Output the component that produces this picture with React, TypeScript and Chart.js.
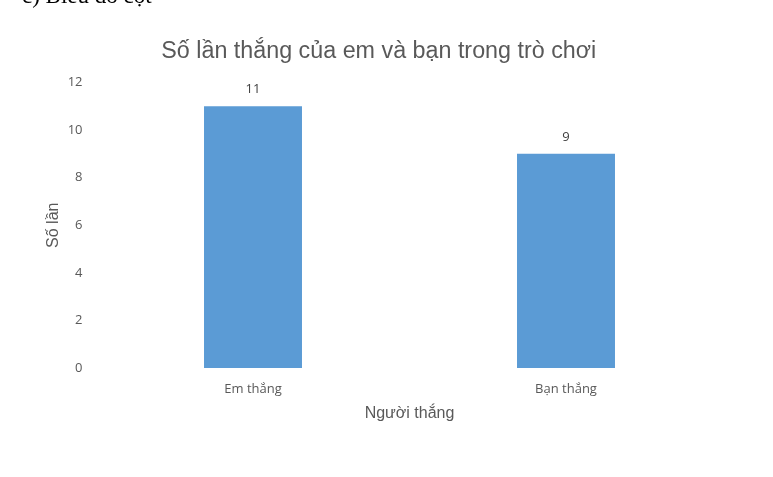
import React, { useEffect, useRef } from 'react';
import { Chart, registerables } from 'chart.js';

Chart.register(...registerables);

const categories = ['Em thắng', 'Bạn thắng'];
const wins = [11, 9];
const yTicks = [0, 2, 4, 6, 8, 10, 12];

const TEXT = '#595959';

// writes the value above each bar
const valueLabels = {
  id: 'valueLabels',
  afterDatasetsDraw(chart: any) {
    const ctx = chart.ctx;
    const meta = chart.getDatasetMeta(0);
    ctx.save();
    ctx.font = '13px "Open Sans"';
    ctx.fillStyle = '#404040';
    ctx.textAlign = 'center';
    ctx.textBaseline = 'middle';
    meta.data.forEach((bar: any, i: number) => {
      ctx.fillText(String(wins[i]), bar.x, bar.y - 17);
    });
    ctx.restore();
  },
};

function WinsChart() {
  const chartRef = useRef<HTMLCanvasElement>(null);

  useEffect(() => {
    if (!chartRef.current) return;
    const myChart = new Chart(chartRef.current, {
      type: 'bar',
      data: {
        labels: categories,
        datasets: [{
          label: 'Số lần',
          data: wins,
          backgroundColor: '#5B9BD5',
          borderWidth: 0,
          barPercentage: 0.313,
          categoryPercentage: 1,
        }],
      },
      options: {
        animation: false,
        responsive: false,
        layout: { padding: { left: 35, right: 50.5, top: 0, bottom: 54 } },
        plugins: {
          legend: { display: false },
          tooltip: { enabled: false },
          title: {
            display: true,
            text: 'Số lần thắng của em và bạn trong trò chơi',
            color: TEXT,
            font: { family: '"Liberation Sans", Arial', size: 23.3, weight: 'normal' },
            padding: { top: 38, bottom: 16.5 },
          },
        },
        scales: {
          x: {
            grid: { display: false, drawTicks: false },
            border: { display: false },
            ticks: { color: TEXT, font: { family: '"Open Sans"', size: 13 }, padding: 13.5 },
            title: {
              display: true,
              text: 'Người thắng',
              color: TEXT,
              font: { family: '"Liberation Sans", Arial', size: 16 },
              padding: 0,
            },
            afterFit(scale: any) { scale.height = 55; },
          },
          y: {
            min: 0,
            max: 12,
            grid: { display: false, drawTicks: false },
            border: { display: false },
            afterBuildTicks(scale: any) { scale.ticks = yTicks.map((v) => ({ value: v })); },
            ticks: { color: TEXT, font: { family: '"Open Sans"', size: 13 }, padding: 14 },
            title: {
              display: true,
              text: 'Số lần',
              color: TEXT,
              font: { family: '"Liberation Sans", Arial', size: 16 },
              padding: { top: 9, bottom: 0 },
            },
            afterFit(scale: any) { scale.width = 61.5; },
          },
        },
      },
      plugins: [valueLabels],
    });

    return () => {
      myChart.destroy();
    };
  }, []);

  return <canvas ref={chartRef} width={773} height={477} style={{ display: 'block' }}></canvas>;
}

export default function App() {
  return (
    <div style={{ position: 'fixed', left: 0, top: 0, width: 773, height: 477, background: '#fff', overflow: 'hidden' }}>
      <WinsChart />
      <div style={{ position: 'absolute', left: 22, top: -17, fontFamily: '"Liberation Serif", "Times New Roman", serif', fontSize: 23, color: '#000', whiteSpace: 'nowrap' }}>
        c) Biểu đồ cột
      </div>
    </div>
  );
}
